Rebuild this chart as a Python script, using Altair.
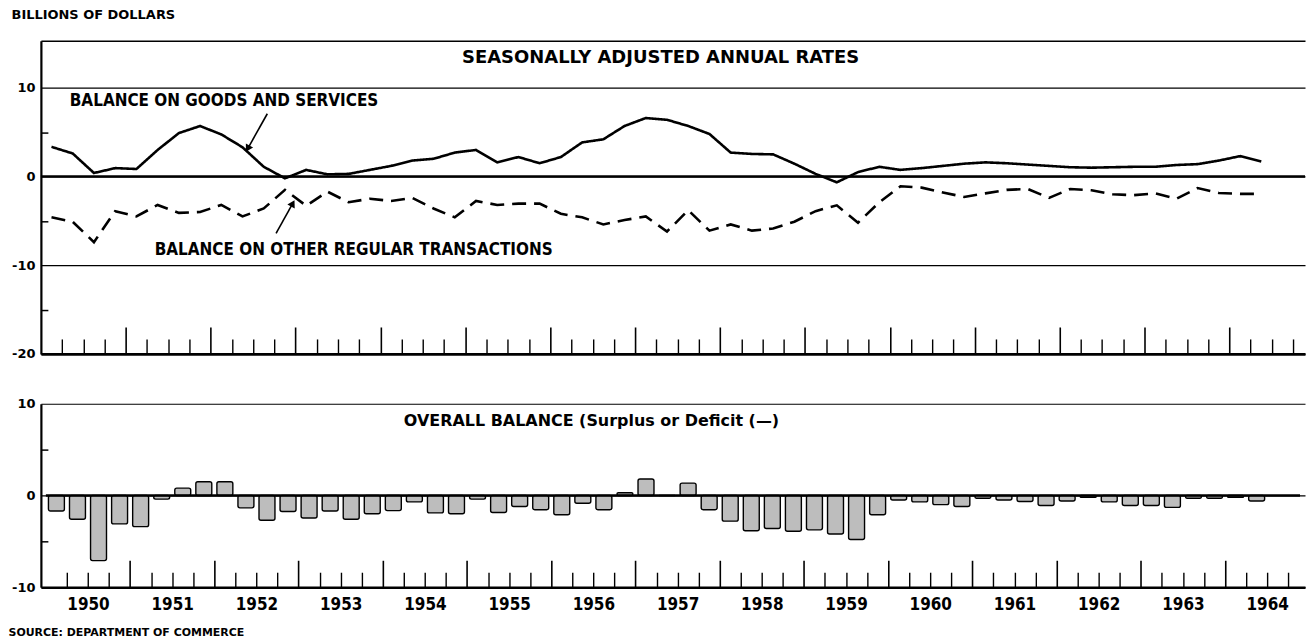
import altair as alt
import pandas as pd

# ---------------- data (quarterly, 1950 Q1 - 1964 Q2) ----------------
years = list(range(1950, 1965))
quarters = [1, 2, 3, 4]

goods_services = [3.35, 2.6, 0.4, 0.95, 0.85, 3.0, 4.9, 5.7, 4.75, 3.3,
                  1.1, -0.2, 0.75, 0.25, 0.3, 0.75, 1.2, 1.8, 2.0, 2.7,
                  3.0, 1.6, 2.2, 1.5, 2.2, 3.85, 4.2, 5.7, 6.6, 6.4,
                  5.7, 4.8, 2.7, 2.55, 2.5, 1.45, 0.3, -0.65, 0.5, 1.1,
                  0.75, 0.95, 1.2, 1.45, 1.6, 1.5, 1.35, 1.2, 1.05, 1.0,
                  1.05, 1.1, 1.1, 1.3, 1.4, 1.8, 2.3, 1.7]

other_regular = [-4.6, -5.1, -7.4, -3.9, -4.5, -3.2, -4.1, -4.0, -3.2, -4.5,
                 -3.6, -1.5, -3.3, -1.7, -2.9, -2.5, -2.75, -2.4, -3.6, -4.6,
                 -2.75, -3.2, -3.05, -3.05, -4.2, -4.6, -5.4, -4.9, -4.5, -6.2,
                 -3.8, -6.1, -5.4, -6.1, -5.85, -5.1, -3.9, -3.25, -5.2, -2.9,
                 -1.1, -1.25, -1.8, -2.3, -1.9, -1.5, -1.4, -2.4, -1.4, -1.55,
                 -2.0, -2.1, -1.9, -2.5, -1.3, -1.85, -1.95, -1.95]

overall_balance = [-1.7, -2.6, -7.1, -3.1, -3.4, -0.4, 0.8, 1.5, 1.5, -1.35,
                   -2.7, -1.75, -2.45, -1.7, -2.6, -2.0, -1.65, -0.7, -1.9, -2.0,
                   -0.4, -1.85, -1.2, -1.55, -2.1, -0.85, -1.55, 0.3, 1.8, 0.0,
                   1.35, -1.55, -2.8, -3.85, -3.6, -3.9, -3.75, -4.2, -4.8, -2.1,
                   -0.5, -0.7, -1.0, -1.2, -0.3, -0.5, -0.65, -1.1, -0.6, -0.2,
                   -0.7, -1.1, -1.1, -1.3, -0.3, -0.3, -0.2, -0.6]

series_names = ["Balance on goods and services", "Balance on other regular transactions"]

# ---------------- tables ----------------
n = len(goods_services)
yr = [y for y in years for q in quarters][:n]
qt = [q for y in years for q in quarters][:n]
t = [y + (q - 0.5) / 4 for y, q in zip(yr, qt)]

lines_df = pd.DataFrame({
    "t": t + t,
    "value": goods_services + other_regular,
    "series": [series_names[0]] * n + [series_names[1]] * n,
})
bars_df = pd.DataFrame({"t": t, "value": overall_balance})
one = alt.Data(values=[{}])

# ---------------- geometry / scales ----------------
W, H1, H2 = 1268, 314, 184
xs = alt.Scale(domain=[1950, 1964.89], nice=False, zero=False)
ys1 = alt.Scale(domain=[-20, 15.3], nice=False, zero=False)
ys2 = alt.Scale(domain=[-10, 10], nice=False, zero=False)

year_bounds = years[1:]
quarter_bounds = [y + q / 4 for y in years for q in (1, 2, 3)]
year_centers = [y + 0.5 for y in years]

HEAD_FONT = "DejaVu Sans"
COND_FONT = "DejaVu Sans Condensed, Roboto Condensed, Roboto, sans-serif"
LABEL_EXPR = "datum.value < 0 ? '-' + abs(datum.value) : '' + datum.value"


def left_axis(vals):
    return alt.Axis(orient="left", values=vals, labelExpr=LABEL_EXPR, ticks=False,
                    domain=True, domainColor="black", domainWidth=2.2,
                    grid=True, gridColor="black", gridWidth=1.2, gridOpacity=1,
                    labelFont=HEAD_FONT, labelFontWeight="bold", labelFontSize=13,
                    labelColor="black", labelPadding=6, title=None)


def inner_y_ticks(vals, h_width):
    return alt.Axis(orient="right", offset=-h_width, values=vals, labels=False,
                    domain=False, grid=False, ticks=True, tickSize=7, tickWidth=1.5,
                    tickColor="black", title=None)


def year_tick_axis(h):
    return alt.Axis(orient="top", offset=-h, values=year_bounds, labels=False,
                    ticks=True, tickSize=27, tickWidth=1.6, tickColor="black",
                    domain=True, domainColor="black", domainWidth=2.6,
                    grid=False, title=None)


def quarter_tick_axis(h):
    return alt.Axis(orient="top", offset=-h, values=quarter_bounds, labels=False,
                    ticks=True, tickSize=15, tickWidth=1.4, tickColor="black",
                    domain=False, grid=False, title=None)


def xd(v, axis=None):
    return alt.X(datum=v, type="quantitative", scale=xs, axis=axis)


def yd(v, scale, axis=None):
    return alt.Y(datum=v, type="quantitative", scale=scale, axis=axis)


def label(text, x, y, scale, font, size, align="left", xaxis=None):
    return alt.Chart(one).mark_text(
        text=text, align=align, baseline="middle", font=font, fontSize=size,
        fontWeight="bold", color="black"
    ).encode(x=xd(x, xaxis), y=yd(y, scale))


def arrow(x0, y0, x1, y1, angle):
    shaft = alt.Chart(one).mark_rule(color="black", strokeWidth=1.6).encode(
        x=xd(x0), y=yd(y0, ys1),
        x2=alt.X2(datum=x1), y2=alt.Y2(datum=y1))
    head = alt.Chart(one).mark_point(shape="triangle", filled=True, size=70,
                                     color="black", opacity=1, angle=angle).encode(
        x=xd(x1), y=yd(y1, ys1))
    return shaft + head


# ---------------- top panel ----------------
top_border = alt.Axis(orient="top", labels=False, ticks=False, domain=True,
                      domainColor="black", domainWidth=1.5, grid=False, title=None)

lines = alt.Chart(lines_df).mark_line(color="black", strokeWidth=2.6).encode(
    x=alt.X("t:Q", scale=xs, axis=top_border),
    y=alt.Y("value:Q", scale=ys1, axis=left_axis([-20, -10, 0, 10])),
    strokeDash=alt.StrokeDash("series:N", legend=None,
                              scale=alt.Scale(domain=series_names, range=[[1, 0], [14, 8]])),
)

zero1 = alt.Chart(one).mark_rule(color="black", strokeWidth=2.4).encode(
    x=xd(1950, quarter_tick_axis(H1)), x2=alt.X2(datum=1964.89),
    y=yd(0, ys1, inner_y_ticks([-15, -5, 5], W)))

top = alt.layer(
    lines,
    zero1,
    label("SEASONALLY ADJUSTED ANNUAL RATES", 1957.3, 13.4, ys1, HEAD_FONT, 18,
          align="center", xaxis=year_tick_axis(H1)),
    label("BALANCE ON GOODS AND SERVICES", 1950.34, 8.54, ys1, COND_FONT, 17),
    label("BALANCE ON OTHER REGULAR TRANSACTIONS", 1951.34, -8.32, ys1, COND_FONT, 17),
    arrow(1952.667, 7.08, 1952.443, 3.26, 209.7),
    arrow(1952.77, -6.41, 1952.96, -3.15, 28.6),
).resolve_axis(x="independent", y="independent").properties(
    width=W, height=H1,
    title=alt.TitleParams("BILLIONS OF DOLLARS", anchor="start", frame="bounds",
                          font=HEAD_FONT, fontSize=13, fontWeight="bold",
                          color="black", offset=19),
)

# ---------------- bottom panel ----------------
year_label_axis = alt.Axis(orient="bottom", values=year_centers,
                           labelExpr="'' + floor(datum.value)", ticks=False,
                           domain=False, grid=False, labelFont=COND_FONT,
                           labelFontWeight="bold", labelFontSize=17,
                           labelColor="black", labelPadding=9,
                           title="SOURCE: DEPARTMENT OF COMMERCE",
                           titleFont=HEAD_FONT, titleFontSize=11,
                           titleFontWeight="bold", titleColor="black",
                           titleAnchor="start", titleAlign="left",
                           titleBaseline="middle", titleX=-33, titleY=45)

bars = alt.Chart(bars_df).mark_bar(size=16, fill="#bdbdbd", stroke="black",
                                   strokeWidth=1.4, cornerRadius=2).encode(
    x=alt.X("t:Q", scale=xs, axis=year_label_axis),
    y=alt.Y("value:Q", scale=ys2, axis=left_axis([-10, 0, 10])),
    y2=alt.Y2(datum=0),
)

zero2 = alt.Chart(one).mark_rule(color="black", strokeWidth=2.4).encode(
    x=xd(1950, quarter_tick_axis(H2)), x2=alt.X2(datum=1964.89),
    y=yd(0, ys2, inner_y_ticks([-5, 5], W)))

bottom = alt.layer(
    bars,
    zero2,
    label("OVERALL BALANCE (Surplus or Deficit (\u2014)", 1954.25, 8.15, ys2,
          HEAD_FONT, 16, xaxis=year_tick_axis(H2)),
).resolve_axis(x="independent", y="independent").properties(width=W, height=H2)

chart = alt.vconcat(top, bottom, spacing=37).properties(padding=0).configure_view(
    stroke=None)

chart.save("out.html", embed_options={"renderer": "svg", "actions": False})
